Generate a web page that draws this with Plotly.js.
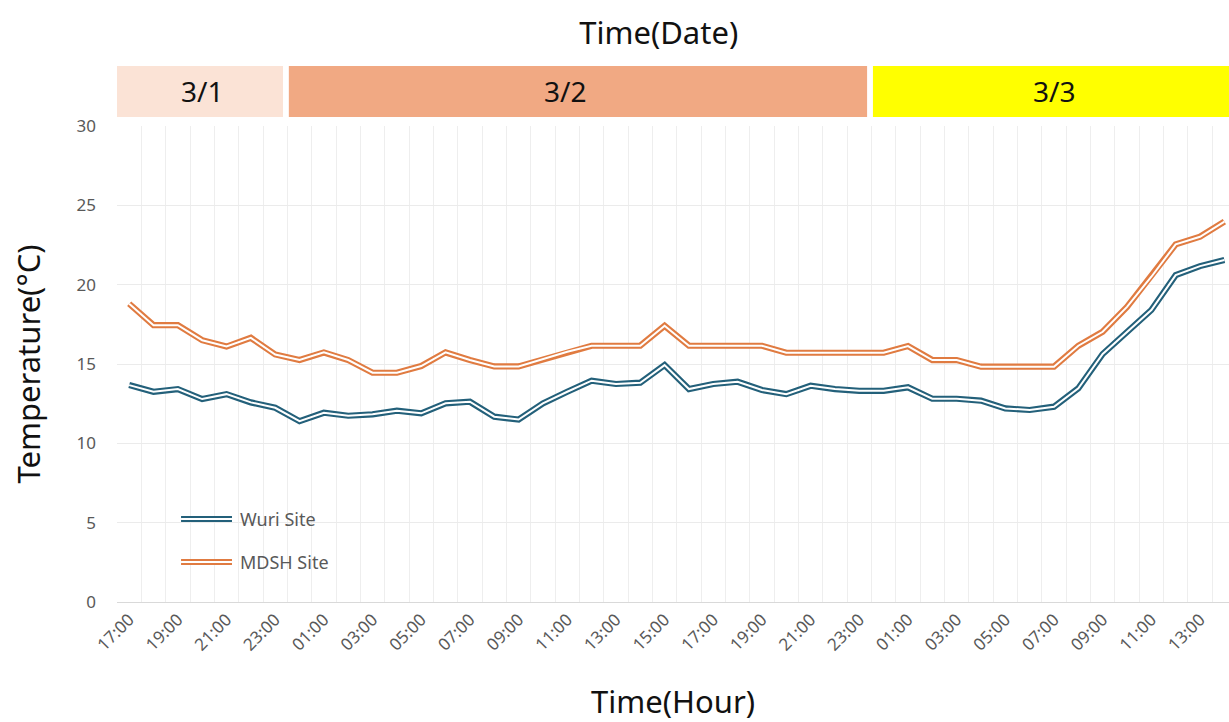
<!DOCTYPE html>
<html>
<head>
<meta charset="utf-8">
<script src="https://cdn.plot.ly/plotly-3.0.1.min.js"></script>
<style>html,body{margin:0;padding:0;background:#fff;}#chart{width:1229px;height:722px;}</style>
</head>
<body>
<div id="chart"></div>
<script>
// ---- data ----
const hours = ["17:00","18:00","19:00","20:00","21:00","22:00","23:00",
  "00:00","01:00","02:00","03:00","04:00","05:00","06:00","07:00","08:00","09:00","10:00","11:00","12:00",
  "13:00","14:00","15:00","16:00","17:00","18:00","19:00","20:00","21:00","22:00","23:00",
  "00:00","01:00","02:00","03:00","04:00","05:00","06:00","07:00","08:00","09:00","10:00","11:00","12:00",
  "13:00","14:00"];
const dates = ["3/1", "3/2", "3/3"];
const hoursPerDate = [7, 24, 15];
const wuri = [13.67,13.25,13.42,12.79,13.10,12.58,12.24,11.40,11.93,11.74,11.83,12.06,11.89,12.52,12.62,11.68,11.50,12.52,13.25,13.95,13.74,13.82,14.93,13.42,13.74,13.88,13.36,13.10,13.63,13.42,13.31,13.31,13.53,12.81,12.81,12.69,12.20,12.10,12.31,13.47,15.63,17.03,18.40,20.60,21.17,21.55];
const mdsh = [18.80,17.45,17.45,16.50,16.10,16.65,15.60,15.25,15.73,15.25,14.45,14.45,14.87,15.73,15.25,14.85,14.85,15.29,15.77,16.15,16.15,16.15,17.41,16.15,16.15,16.15,16.15,15.71,15.71,15.71,15.71,15.71,16.13,15.25,15.25,14.83,14.83,14.83,14.83,16.15,17.03,18.60,20.50,22.54,23.02,23.97];
const seriesNames = ["Wuri Site", "MDSH Site"];

// ---- styles ----
const FONT = "Noto Sans, Open Sans, sans-serif";
const colors = ["#23607A", "#E07B41"];
const bandColors = ["#FBE3D6", "#F1A983", "#FFFF00"];
const OUTER = 6.2, INNER = 2;
const idx = hours.map((_, i) => i);

function doubleLine(y, color, name) {
  return [
    {x: idx, y: y, type: "scatter", mode: "lines", name: name, showlegend: false,
     line: {color: color, width: OUTER}, hovertemplate: name + ": %{y}<extra></extra>"},
    {x: idx, y: y, type: "scatter", mode: "lines", name: name, showlegend: false,
     line: {color: "#ffffff", width: INNER}, hoverinfo: "skip"}
  ];
}
const data = [].concat(doubleLine(wuri, colors[0], seriesNames[0]), doubleLine(mdsh, colors[1], seriesNames[1]));

// date bands
const shapes = [];
const annotations = [];
let cum = 0;
dates.forEach((d, k) => {
  const start = cum - 0.5, end = cum + hoursPerDate[k] - 0.5;
  shapes.push({type: "rect", xref: "x", yref: "paper", x0: k === 0 ? start - 0.17 : start + 0.06, x1: end - 0.18,
    y0: 1.019, y1: 1.126, fillcolor: bandColors[k], line: {width: 0}, layer: "above"});
  annotations.push({xref: "x", yref: "paper", x: (start + end) / 2 - (k === 1 ? 0.6 : 0), y: 1.0725, text: d, showarrow: false,
    xanchor: "center", yanchor: "middle", font: {family: FONT, size: 28, color: "#111"}});
  cum += hoursPerDate[k];
});

// manual legend (double line swatches)
const legY = [0.1744, 0.084];
seriesNames.forEach((n, k) => {
  shapes.push({type: "line", xref: "paper", yref: "paper", x0: 0.0576, x1: 0.1034, y0: legY[k], y1: legY[k],
    line: {color: colors[k], width: OUTER}});
  shapes.push({type: "line", xref: "paper", yref: "paper", x0: 0.0576, x1: 0.1034, y0: legY[k], y1: legY[k],
    line: {color: "#ffffff", width: INNER}});
  annotations.push({xref: "paper", yref: "paper", x: 0.1088, y: legY[k], text: n, showarrow: false,
    xanchor: "left", yanchor: "middle", font: {family: FONT, size: 18, color: "#595959"}});
});

const tickIdx = idx.filter(i => i % 2 === 0);
const layout = {
  width: 1229, height: 722,
  margin: {l: 117, r: 0, t: 126, b: 120},
  paper_bgcolor: "#ffffff", plot_bgcolor: "#ffffff",
  font: {family: FONT},
  showlegend: false,
  title: {text: "Time(Date)", font: {family: FONT, size: 31, color: "#111"},
    x: 0.536, xanchor: "center", y: 0.954, yanchor: "middle"},
  xaxis: {
    range: [-0.5, 45.19], tickmode: "array", tickvals: tickIdx, ticktext: tickIdx.map(i => hours[i]),
    tickangle: -45, tickfont: {family: FONT, size: 17, color: "#595959"},
    showgrid: false, zeroline: false, showline: true, linecolor: "#D9D9D9", linewidth: 1, ticks: "",
    minor: {tickmode: "array", tickvals: idx.map(i => i + 0.5).concat([-0.5]), showgrid: true,
      gridcolor: "#EEEEEE", gridwidth: 1, ticks: ""},
    title: {text: "Time(Hour)", font: {family: FONT, size: 31, color: "#111"}, standoff: 38}
  },
  yaxis: {
    range: [0, 30], dtick: 5, tick0: 0, showgrid: true, gridcolor: "#EBEBEB", gridwidth: 1,
    zeroline: false, showline: false, ticks: "", ticklabelstandoff: 20,
    tickfont: {family: FONT, size: 17, color: "#595959"},
    title: {text: "Temperature(°C)", font: {family: FONT, size: 31, color: "#111"}, standoff: 26}
  },
  shapes: shapes,
  annotations: annotations
};
Plotly.newPlot("chart", data, layout, {displayModeBar: false, responsive: false});
</script>
</body>
</html>
